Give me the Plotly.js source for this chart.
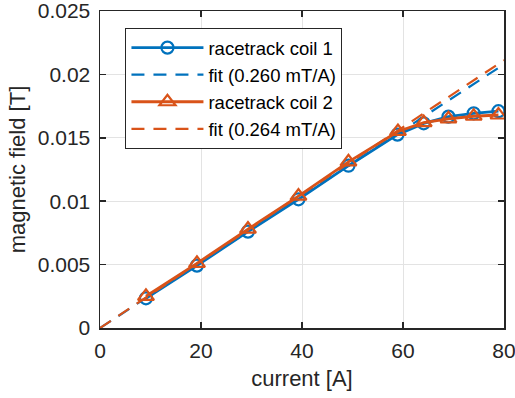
<!DOCTYPE html>
<html>
<head>
<meta charset="utf-8">
<script src="https://cdn.plot.ly/plotly-3.0.1.min.js"></script>
<style>html,body{margin:0;padding:0;background:#fff;}#chart{width:515px;height:398px;}</style>
</head>
<body>
<div id="chart"></div>
<script>
var current1 = [9.1, 19.2, 29.3, 39.3, 49.2, 58.9, 64.1, 69.0, 74.0, 78.9];
var field1 = [0.00234, 0.00492, 0.0076, 0.01015, 0.0128, 0.01525, 0.01614, 0.01667, 0.01693, 0.0171];
var current2 = [9.1, 19.2, 29.3, 39.3, 49.2, 59.0, 64.1, 69.0, 74.0, 78.9];
var field2 = [0.0025, 0.0051, 0.0078, 0.0104, 0.0131, 0.0155, 0.0162, 0.0165, 0.0167, 0.0168];
var fitCurrent = [0, 80];
var fit1 = [0, 0.0208];
var fit2 = [0, 0.02112];
var names = ['racetrack coil 1', 'fit (0.260 mT/A)', 'racetrack coil 2', 'fit (0.264 mT/A)'];
var xTicks = [0, 20, 40, 60, 80];
var yTicks = [0, 0.005, 0.01, 0.015, 0.02, 0.025];
var yTickText = ['0', '0.005', '0.01', '0.015', '0.02', '0.025'];

var blue = '#0072BD', orange = '#D95319';
var data = [
  {x: current1, y: field1, name: names[0], mode: 'lines+markers', type: 'scatter',
   line: {color: blue, width: 2.8}, marker: {symbol: 'circle-open', size: 12, color: blue, line: {width: 2.2, color: blue}}},
  {x: fitCurrent, y: fit1, name: names[1], mode: 'lines', type: 'scatter',
   line: {color: blue, width: 2.2, dash: '13px,9px'}},
  {x: current2, y: field2, name: names[2], mode: 'lines+markers', type: 'scatter',
   line: {color: orange, width: 2.8}, marker: {symbol: 'triangle-up-open', size: 14, color: orange, line: {width: 2.2, color: orange}}},
  {x: fitCurrent, y: fit2, name: names[3], mode: 'lines', type: 'scatter',
   line: {color: orange, width: 2.2, dash: '13px,9px'}}
];
var axisCommon = {
  showline: true, mirror: 'ticks', linecolor: '#262626', linewidth: 1.5,
  ticks: 'inside', ticklen: 6, tickcolor: '#262626', tickwidth: 1.5,
  showgrid: true, gridcolor: '#e3e3e3', gridwidth: 1, zeroline: false,
  ticklabeloverflow: 'allow',
  tickfont: {family: 'Liberation Sans, Arial, sans-serif', size: 21, color: '#262626'}
};
var layout = {
  width: 515, height: 398,
  margin: {l: 100, r: 11, t: 11, b: 70},
  paper_bgcolor: '#fff', plot_bgcolor: '#fff',
  font: {family: 'Liberation Sans, Arial, sans-serif', color: '#262626'},
  showlegend: true,
  xaxis: Object.assign({}, axisCommon, {range: [0, 80], tickvals: xTicks, ticklabelstandoff: 3,
    title: {text: 'current [A]', font: {size: 22, color: '#262626'}, standoff: 10}}),
  yaxis: Object.assign({}, axisCommon, {range: [0, 0.025], tickvals: yTicks, ticktext: yTickText, ticklabelstandoff: 4,
    title: {text: 'magnetic field [T]', font: {size: 22, color: '#262626'}, standoff: 6}}),
  legend: {x: 0.063, y: 0.946, xanchor: 'left', yanchor: 'top',
    bgcolor: '#fff', bordercolor: '#262626', borderwidth: 1,
    font: {size: 18.5, color: '#000'}, itemwidth: 72, tracegroupgap: 0}
};
Plotly.newPlot('chart', data, layout, {displayModeBar: false, staticPlot: true});
</script>
</body>
</html>
